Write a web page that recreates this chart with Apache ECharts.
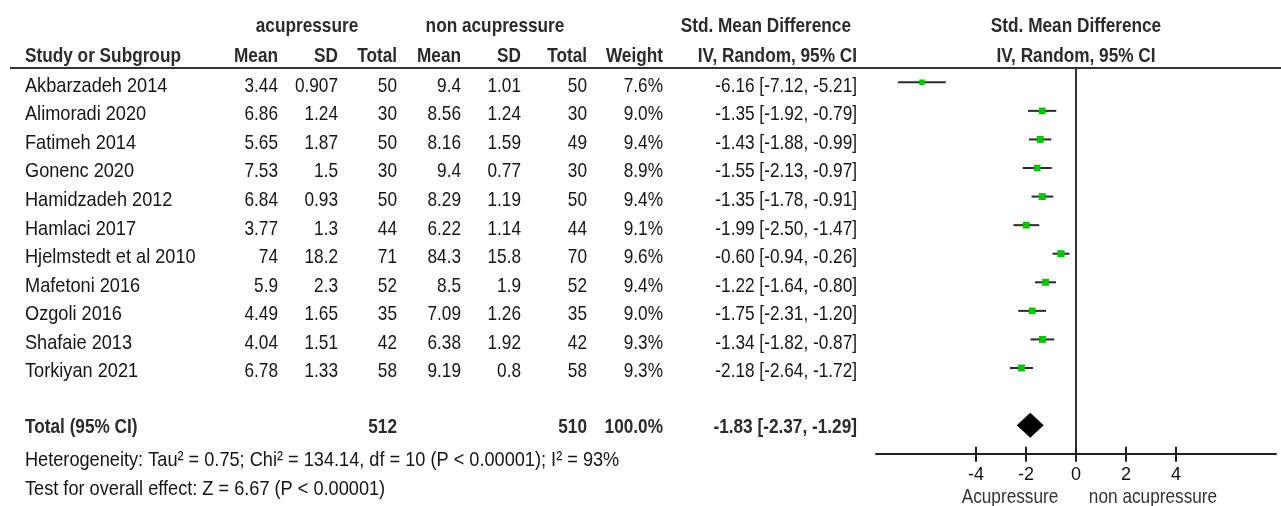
<!DOCTYPE html>
<html>
<head>
<meta charset="utf-8">
<script src="https://cdn.jsdelivr.net/npm/echarts@6/dist/echarts.min.js"></script>
<style>
  html, body { margin: 0; padding: 0; background: #fff; }
  #chart { width: 1281px; height: 506px; }
</style>
</head>
<body>
<div id="chart"></div>
<script>
// ---------------- DATA ----------------
const studies = ['Akbarzadeh 2014', 'Alimoradi 2020', 'Fatimeh 2014', 'Gonenc 2020', 'Hamidzadeh 2012',
  'Hamlaci 2017', 'Hjelmstedt et al 2010', 'Mafetoni 2016', 'Ozgoli 2016', 'Shafaie 2013', 'Torkiyan 2021'];
const acuMean = [3.44, 6.86, 5.65, 7.53, 6.84, 3.77, 74, 5.9, 4.49, 4.04, 6.78];
const acuSD   = [0.907, 1.24, 1.87, 1.5, 0.93, 1.3, 18.2, 2.3, 1.65, 1.51, 1.33];
const acuN    = [50, 30, 50, 30, 50, 44, 71, 52, 35, 42, 58];
const nonMean = [9.4, 8.56, 8.16, 9.4, 8.29, 6.22, 84.3, 8.5, 7.09, 6.38, 9.19];
const nonSD   = [1.01, 1.24, 1.59, 0.77, 1.19, 1.14, 15.8, 1.9, 1.26, 1.92, 0.8];
const nonN    = [50, 30, 49, 30, 50, 44, 70, 52, 35, 42, 58];
const weights = [7.6, 9.0, 9.4, 8.9, 9.4, 9.1, 9.6, 9.4, 9.0, 9.3, 9.3];
const smd     = [-6.16, -1.35, -1.43, -1.55, -1.35, -1.99, -0.60, -1.22, -1.75, -1.34, -2.18];
const ciLow   = [-7.12, -1.92, -1.88, -2.13, -1.78, -2.50, -0.94, -1.64, -2.31, -1.82, -2.64];
const ciHigh  = [-5.21, -0.79, -0.99, -0.97, -0.91, -1.47, -0.26, -0.80, -1.20, -0.87, -1.72];
const total = { label: 'Total (95% CI)', acuN: 512, nonN: 510, weight: 100.0, smd: -1.83, low: -2.37, high: -1.29 };
const heterogeneityText = 'Heterogeneity: Tau\u00b2 = 0.75; Chi\u00b2 = 134.14, df = 10 (P < 0.00001); I\u00b2 = 93%';
const overallText = 'Test for overall effect: Z = 6.67 (P < 0.00001)';
const xTicks = [-4, -2, 0, 2, 4];
const xRange = [-8, 8];
const favourLabels = ['Acupressure', 'non acupressure'];

// ---------------- LAYOUT ----------------
const W = 1281, H = 506;
const FONT = "'Liberation Sans', Arial, sans-serif";
const FS = 21;
const NARROW = 0.82;                           // horizontal condensing (Arial Narrow look)
const NARROW_WORDS = 0.865;                    // regular running text renders slightly wider
const ROW0_Y = 82.3, ROW_H = 28.57;            // pixel centre of first study row, row spacing
const TEXT_SHIFT = 3.6 / ROW_H;                // text sits a little below the marker line
const TOTAL_ROW = 12;
const AXIS_ROW = 13;
const HEAD1 = (26.5 - ROW0_Y) / ROW_H;
const HEAD2 = (56.5 - ROW0_Y) / ROW_H;
const HET_ROW = (460 - ROW0_Y) / ROW_H;
const TEST_ROW = (489.5 - ROW0_Y) / ROW_H;
const FAV_ROW = (497 - ROW0_Y) / ROW_H;
const COL = { study: 25, mean1: 278, sd1: 338, n1: 397, mean2: 461, sd2: 521, n2: 587, weight: 663, ci: 857,
  grp1: 307, grp2: 495, smdHead: 851, forest: 1076, fav1: 1010, fav2: 1153 };
const PLOT_LEFT = 876, PLOT_WIDTH = 400;

// ---------------- BUILD ----------------
const fmt2 = v => v.toFixed(2);
const ciText = (e, l, h) => fmt2(e) + ' [' + fmt2(l) + ', ' + fmt2(h) + ']';

const cells = [];
function cell(x, y, text, align, bold, color, sx) {
  cells.push({ x: x, y: y, text: text, align: align || 'right', bold: !!bold, color: color || '#151515', sx: sx || NARROW });
}
const HC = '#2b2b2b';
cell(COL.grp1, HEAD1, 'acupressure', 'center', true, HC);
cell(COL.grp2, HEAD1, 'non acupressure', 'center', true, HC);
cell(COL.smdHead, HEAD1, 'Std. Mean Difference', 'right', true, HC);
cell(COL.forest, HEAD1, 'Std. Mean Difference', 'center', true, HC);
cell(COL.study, HEAD2, 'Study or Subgroup', 'left', true, HC);
cell(COL.mean1, HEAD2, 'Mean', 'right', true, HC);
cell(COL.sd1, HEAD2, 'SD', 'right', true, HC);
cell(COL.n1, HEAD2, 'Total', 'right', true, HC);
cell(COL.mean2, HEAD2, 'Mean', 'right', true, HC);
cell(COL.sd2, HEAD2, 'SD', 'right', true, HC);
cell(COL.n2, HEAD2, 'Total', 'right', true, HC);
cell(COL.weight, HEAD2, 'Weight', 'right', true, HC);
cell(COL.ci, HEAD2, 'IV, Random, 95% CI', 'right', true, HC);
cell(COL.forest, HEAD2, 'IV, Random, 95% CI', 'center', true, HC);
studies.forEach((s, i) => {
  const y = i + TEXT_SHIFT;
  cell(COL.study, y, s, 'left', false, null, NARROW_WORDS);
  cell(COL.mean1, y, String(acuMean[i]));
  cell(COL.sd1, y, String(acuSD[i]));
  cell(COL.n1, y, String(acuN[i]));
  cell(COL.mean2, y, String(nonMean[i]));
  cell(COL.sd2, y, String(nonSD[i]));
  cell(COL.n2, y, String(nonN[i]));
  cell(COL.weight, y, weights[i].toFixed(1) + '%');
  cell(COL.ci, y, ciText(smd[i], ciLow[i], ciHigh[i]));
});
const ty = TOTAL_ROW + 2 / ROW_H;
cell(COL.study, ty, total.label, 'left', true, HC);
cell(COL.n1, ty, String(total.acuN), 'right', true, HC);
cell(COL.n2, ty, String(total.nonN), 'right', true, HC);
cell(COL.weight, ty, total.weight.toFixed(1) + '%', 'right', true, HC);
cell(COL.ci, ty, ciText(total.smd, total.low, total.high), 'right', true, HC);
cell(COL.study, HET_ROW, heterogeneityText, 'left', false, null, NARROW_WORDS);
cell(COL.study, TEST_ROW, overallText, 'left', false, null, NARROW_WORDS);
cell(COL.fav1, FAV_ROW, favourLabels[0], 'center', false, '#333');
cell(COL.fav2, FAV_ROW, favourLabels[1], 'center', false, '#333');

const forestData = studies.map((s, i) => [i, smd[i], ciLow[i], ciHigh[i], weights[i], 0]);
forestData.push([TOTAL_ROW, total.smd, total.low, total.high, total.weight, 1]);

const chart = echarts.init(document.getElementById('chart'), null, { renderer: 'canvas' });
chart.setOption({
  animation: false,
  backgroundColor: '#fff',
  textStyle: { fontFamily: FONT },
  grid: [
    { left: PLOT_LEFT, width: PLOT_WIDTH, top: ROW0_Y - 0.5 * ROW_H, height: (AXIS_ROW + 0.5) * ROW_H, outerBoundsMode: 'none', containLabel: false },
    { left: 0, width: W, top: 0, height: H, outerBoundsMode: 'none', containLabel: false }
  ],
  xAxis: [
    { gridIndex: 0, type: 'value', min: xRange[0], max: xRange[1], interval: 2, position: 'bottom',
      axisLine: { show: true, onZero: false, lineStyle: { color: '#222', width: 2 } },
      axisTick: { show: true, customValues: xTicks, length: 8, lineStyle: { color: '#222', width: 2 } },
      axisLabel: { customValues: xTicks, margin: 12, fontSize: 18, color: '#111', fontFamily: FONT },
      splitLine: { show: false } },
    { gridIndex: 1, type: 'value', min: 0, max: W, show: false },
    { gridIndex: 0, type: 'value', min: xRange[0], max: xRange[1], interval: 2, position: 'bottom',
      axisLine: { show: false, onZero: false },
      axisTick: { show: true, inside: true, customValues: xTicks, length: 7, lineStyle: { color: '#222', width: 2 } },
      axisLabel: { show: false }, splitLine: { show: false } }
  ],
  yAxis: [
    { gridIndex: 0, type: 'value', inverse: true, min: -0.5, max: AXIS_ROW,
      axisLine: { show: true, onZero: true, lineStyle: { color: '#333', width: 2 } },
      axisTick: { show: false }, axisLabel: { show: false }, splitLine: { show: false } },
    { gridIndex: 1, type: 'value', inverse: true, min: -ROW0_Y / ROW_H, max: (H - ROW0_Y) / ROW_H, show: false }
  ],
  graphic: [
    { type: 'line', shape: { x1: 10, y1: ROW0_Y - 0.5 * ROW_H, x2: W, y2: ROW0_Y - 0.5 * ROW_H },
      style: { stroke: '#333', lineWidth: 2 }, z: 10, silent: true }
  ],
  series: [
    {
      type: 'custom', xAxisIndex: 0, yAxisIndex: 0, silent: true,
      encode: { x: [1, 2, 3], y: 0 },
      data: forestData,
      renderItem: function (params, api) {
        const y = api.value(0), est = api.value(1), lo = api.value(2), hi = api.value(3), w = api.value(4);
        const pL = api.coord([lo, y]), pH = api.coord([hi, y]), pE = api.coord([est, y]);
        if (api.value(5) === 1) {
          const hh = 12.5;
          return { type: 'polygon', shape: { points: [pL, [pE[0], pE[1] - hh], pH, [pE[0], pE[1] + hh]] },
            style: { fill: '#000' } };
        }
        const s = w * 0.74;
        return { type: 'group', children: [
          { type: 'line', shape: { x1: pL[0], y1: pL[1], x2: pH[0], y2: pH[1] }, style: { stroke: '#2b2b2b', lineWidth: 2 } },
          { type: 'rect', shape: { x: pE[0] - s / 2, y: pE[1] - s / 2, width: s, height: s }, style: { fill: '#00c400' } }
        ] };
      }
    },
    {
      type: 'custom', xAxisIndex: 1, yAxisIndex: 1, silent: true,
      encode: { x: 0, y: 1 },
      data: cells.map(c => [c.x, c.y]),
      renderItem: function (params, api) {
        const c = cells[params.dataIndex];
        const p = api.coord([api.value(0), api.value(1)]);
        return {
          type: 'text', x: p[0], y: p[1], scaleX: c.sx, scaleY: 1,
          style: {
            text: c.text,
            font: (c.bold ? 'bold ' : '') + FS + 'px ' + FONT,
            fill: c.color,
            align: c.align, textAlign: c.align,
            verticalAlign: 'middle', textVerticalAlign: 'middle'
          }
        };
      }
    }
  ]
});
</script>
</body>
</html>
